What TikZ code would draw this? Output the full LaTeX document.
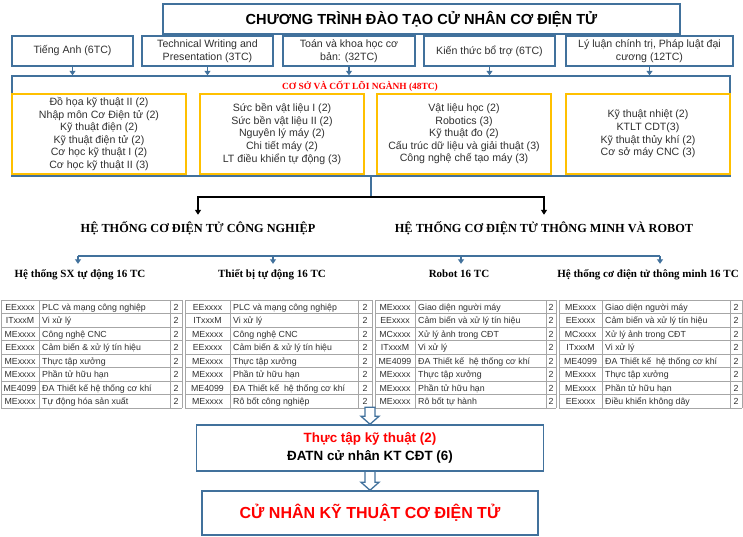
\documentclass[tikz,border=0pt]{standalone}
\usepackage{fontspec}
\setmainfont{Liberation Sans}
\newfontfamily\tnr{Liberation Serif}
\usetikzlibrary{arrows.meta}
\definecolor{bl}{HTML}{41719C}
\definecolor{yl}{HTML}{FFC000}
\definecolor{tg}{HTML}{A6A6A6}
\definecolor{tx}{HTML}{303030}
\definecolor{rd}{HTML}{FF0000}
\newcommand\drawtable[6]{%
 \foreach \k in {0,...,8} \draw[tgrid] (#2,{300+13.5*\k}) -- (#5,{300+13.5*\k});
 \foreach \xx in {#2,#3,#4,#5} \draw[tgrid] (\xx,300) -- (\xx,408);
 \foreach \cd/\nm [count=\i] in {#6} {
   \node[tcode] (#1c\i) at ({(#2+#3)/2},{296.5+13.5*\i}) {\cd};
   \node[tname] (#1n\i) at ({#3+3},{296.5+13.5*\i}) {\nm};
   \node[tcode] (#1k\i) at ({(#4+#5)/2},{296.5+13.5*\i}) {2};
 }
}
\begin{document}
\begin{tikzpicture}[x=1pt,y=-1pt,
  rowbox/.style={draw=bl,line width=1.4pt,fill=white,minimum height=30pt,inner sep=0pt,align=center,text=tx,font=\fontsize{10.6}{13}\selectfont},
  ybox/.style={draw=yl,line width=1.4pt,minimum height=80pt,inner sep=0pt,align=center,text=tx,font=\fontsize{10.6}{12.6}\selectfont},
  sarr/.style={draw=bl,line width=1.6pt,-{Triangle[length=4.5pt,width=6pt]}},
  bline/.style={draw=bl,line width=1.6pt},
  karr/.style={draw=black,line width=1.4pt,-{Triangle[length=5pt,width=6pt]}},
  head/.style={font=\tnr\bfseries\fontsize{12.3}{14}\selectfont,anchor=base,inner sep=0pt,text height=17pt},
  subhead/.style={font=\tnr\bfseries\fontsize{11}{13}\selectfont,anchor=base,inner sep=0pt,text height=13pt},
  tcode/.style={font=\fontsize{8.8}{10}\selectfont,text=tx,inner sep=0pt,anchor=base},
  tname/.style={font=\fontsize{8.8}{10}\selectfont,text=tx,inner sep=0pt,anchor=base west},
  tgrid/.style={draw=tg,line width=0.6pt},
  hollow/.style={draw=bl,line width=1.3pt,fill=white,line join=miter},
  bigbox/.style={draw=bl,line width=1.5pt,inner sep=0pt,align=center},
]
\useasboundingbox[fill=white] (0,0) rectangle (743,536);

% title
\node[bigbox,minimum width=517pt,minimum height=30pt,font=\bfseries\fontsize{14.6}{16}\selectfont] (title) at (421.5,19) {CHƯƠNG TRÌNH ĐÀO TẠO CỬ NHÂN CƠ ĐIỆN TỬ};

% row of boxes
\node[rowbox,minimum width=121pt] (b1) at (72.5,51) {Tiếng Anh (6TC)};
\node[rowbox,minimum width=131pt] (b2) at (207.5,51) {Technical Writing and\\Presentation (3TC)};
\node[rowbox,minimum width=132pt] (b3) at (349,51) {Toán và khoa học cơ\\bản: (32TC)};
\node[rowbox,minimum width=131pt] (b4) at (489.5,51) {Kiến thức bổ trợ (6TC)};
\node[rowbox,minimum width=167pt] (b5) at (649.5,51) {Lý luận chính trị, Pháp luật đại\\cương (12TC)};

% core box
\node[draw=bl,line width=1.4pt,minimum width=718pt,minimum height=100pt,inner sep=0pt] (core) at (371,126) {};
\node[font=\tnr\bfseries\fontsize{9.4}{11}\selectfont,text=rd,inner sep=0pt] (corelbl) at (360,86) {CƠ SỞ VÀ CỐT LÕI NGÀNH (48TC)};

\foreach \b in {b1,b2,b3,b4,b5} \draw[sarr] (\b.south) -- (\b.south |- core.north);

\node[ybox,minimum width=174pt] (y1) at (99,134) {Đồ họa kỹ thuật II (2)\\Nhập môn Cơ Điện tử (2)\\Kỹ thuật điện (2)\\Kỹ thuật điện tử (2)\\Cơ học kỹ thuật I (2)\\Cơ học kỹ thuật II (3)};
\node[ybox,minimum width=164pt] (y2) at (282,134) {Sức bền vật liệu I (2)\\Sức bền vật liệu II (2)\\Nguyên lý máy (2)\\Chi tiết máy (2)\\LT điều khiển tự động (3)};
\node[ybox,minimum width=174pt] (y3) at (464,134) {Vật liệu học (2)\\Robotics (3)\\Kỹ thuật đo (2)\\Cấu trúc dữ liệu và giải thuật (3)\\Công nghệ chế tạo máy (3)};
\node[ybox,minimum width=164pt] (y4) at (648,134) {Kỹ thuật nhiệt (2)\\KTLT CDT(3)\\Kỹ thuật thủy khí (2)\\Cơ sở máy CNC (3)};

% headings
\node[head] (h1) at (198,232) {HỆ THỐNG CƠ ĐIỆN TỬ CÔNG NGHIỆP};
\node[head] (h2) at (544,232) {HỆ THỐNG CƠ ĐIỆN TỬ THÔNG MINH VÀ ROBOT};
\coordinate (jn) at (371,197);
\draw[bline] (core.south) -- (jn);
\draw[karr] (jn) -| (h1.north);
\draw[karr] (jn) -| (h2.north);

% sub headings
\node[subhead] (s1) at (80,277) {Hệ thống SX tự động 16 TC};
\node[subhead] (s2) at (272,277) {Thiết bị tự động 16 TC};
\node[subhead] (s3) at (459,277) {Robot 16 TC};
\node[subhead] (s4) at (648,277) {Hệ thống cơ điện tử thông minh 16 TC};
\coordinate (sl1) at (78,256);
\coordinate (sl2) at (273,256);
\coordinate (sl3) at (461,256);
\coordinate (sl4) at (660,256);
\draw[bline] (sl1) -- (sl4);
\foreach \n in {1,2,3,4} \draw[sarr] (sl\n) -- (sl\n |- s\n.north);

% tables
\drawtable{ta}{1}{39}{170}{182}{EExxxx/PLC và mạng công nghiệp,ITxxxM/Vi xử lý,MExxxx/Công nghệ CNC,EExxxx/Cảm biến \& xử lý tín hiệu,MExxxx/Thực tập xưởng,MExxxx/Phần tử hữu hạn,ME4099/ĐA Thiết kế hệ thống cơ khí,MExxxx/Tự động hóa sản xuất}
\drawtable{tb}{185}{230}{358}{372}{EExxxx/PLC và mạng công nghiệp,ITxxxM/Vi xử lý,MExxxx/Công nghệ CNC,EExxxx/Cảm biến \& xử lý tín hiệu,MExxxx/Thực tập xưởng,MExxxx/Phần tử hữu hạn,ME4099/ĐA Thiết kế\ \ hệ thống cơ khí,MExxxx/Rô bốt công nghiệp}
\drawtable{tc}{375}{415}{546}{556}{MExxxx/Giao diện người máy,EExxxx/Cảm biến và xử lý tín hiệu,MCxxxx/Xử lý ảnh trong CĐT,ITxxxM/Vi xử lý,ME4099/ĐA Thiết kế\ \ hệ thống cơ khí,MExxxx/Thực tập xưởng,MExxxx/Phần tử hữu hạn,MExxxx/Rô bốt tự hành}
\drawtable{td}{559}{602}{730}{742}{MExxxx/Giao diện người máy,EExxxx/Cảm biến và xử lý tín hiệu,MCxxxx/Xử lý ảnh trong CĐT,ITxxxM/Vi xử lý,ME4099/ĐA Thiết kế\ \ hệ thống cơ khí,MExxxx/Thực tập xưởng,MExxxx/Phần tử hữu hạn,EExxxx/Điều khiển không dây}

% bottom boxes
\node[bigbox,minimum width=347pt,minimum height=46pt,font=\bfseries\fontsize{13.4}{17.5}\selectfont] (p1) at (370,448) {\textcolor{rd}{Thực tập kỹ thuật (2)}\\ĐATN cử nhân KT CĐT (6)};
\node[bigbox,minimum width=336pt,minimum height=44pt,font=\bfseries\fontsize{16}{18}\selectfont,text=rd] (fin) at (370,513) {CỬ NHÂN KỸ THUẬT CƠ ĐIỆN TỬ};

\draw[hollow] (p1.north) -- ++(9,-8) -- ++(-4,0) -- ++(0,-9) -- ++(-10,0) -- ++(0,9) -- ++(-4,0) -- cycle;
\draw[hollow] (fin.north) -- ++(9,-8) -- ++(-4,0) -- ++(0,-11) -- ++(-10,0) -- ++(0,11) -- ++(-4,0) -- cycle;
\end{tikzpicture}
\end{document}
